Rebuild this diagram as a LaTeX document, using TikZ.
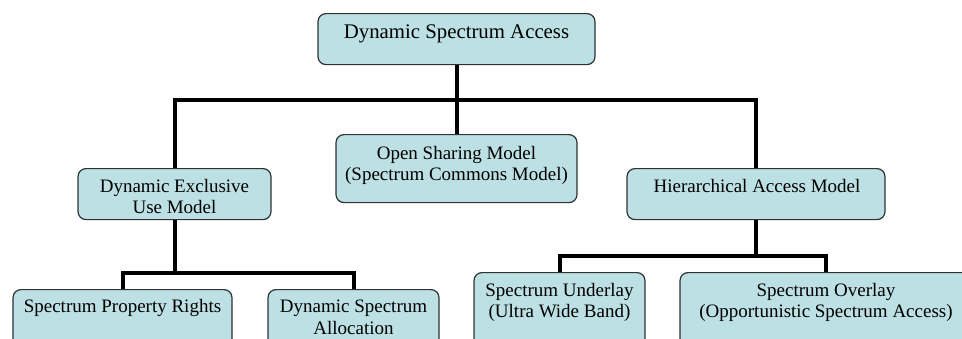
\documentclass[tikz,border=0pt]{standalone}
\usepackage{fontspec}
\setmainfont{Liberation Serif}
\usetikzlibrary{calc}
\definecolor{boxfill}{RGB}{188,224,227}
\definecolor{boxline}{RGB}{45,50,52}
\tikzset{
  box/.style={draw=boxline, fill=boxfill, line width=1.2pt, rounded corners=8pt,
              inner sep=0pt, anchor=north},
  lbl/.style={inner sep=0pt, anchor=north, align=center, text=black,
              font=\fontsize{19}{21.5}\selectfont},
  conn/.style={line width=4pt, draw=black}
}
\begin{document}
\begin{tikzpicture}[x=1pt, y=-1pt]
  \useasboundingbox (0,0) rectangle (962,338);
  \clip (0,0) rectangle (962,338);

  % boxes
  \node[box, minimum width=277pt, minimum height=51pt] (dsa)  at (456.5,13)  {};
  \node[box, minimum width=241pt, minimum height=68pt] (open) at (456.5,134) {};
  \node[box, minimum width=193pt, minimum height=51pt] (deu)  at (174.5,168) {};
  \node[box, minimum width=258pt, minimum height=51pt] (ham)  at (756,168)   {};
  \node[box, minimum width=219pt, minimum height=70pt] (spr)  at (122.5,289) {};
  \node[box, minimum width=171pt, minimum height=70pt] (dspa) at (353.5,289) {};
  \node[box, minimum width=171pt, minimum height=80pt] (und)  at (559.5,272) {};
  \node[box, minimum width=292pt, minimum height=80pt] (ovl)  at (826,272)   {};

  % labels
  \node[lbl, font=\fontsize{20.8}{23}\selectfont] (dsaT) at (456.5,25) {Dynamic Spectrum Access};
  \node[lbl] (openT) at (456.5,146) {Open Sharing Model\\(Spectrum Commons Model)};
  \node[lbl] (deuT)  at (174.5,179) {Dynamic Exclusive\\Use Model};
  \node[lbl] (hamT)  at (757,179)   {Hierarchical Access Model};
  \node[lbl] (sprT)  at (122.5,299) {Spectrum Property Rights};
  \node[lbl] (dspaT) at (353.5,300) {Dynamic Spectrum\\Allocation};
  \node[lbl] (undT)  at (559.5,283) {Spectrum Underlay\\(Ultra Wide Band)};
  \node[lbl] (ovlT)  at (826,283)   {Spectrum Overlay\\(Opportunistic Spectrum Access)};

  % bus bars of the tree, straight below each parent
  \path (dsa.south) ++(0,35) coordinate (bar1);
  \path (deu.south) ++(0,53) coordinate (bar2);
  \path (ham.south) ++(0,36) coordinate (bar3);

  % connectors
  \draw[conn] (dsa.south) -- (open.north);
  \draw[conn] (deu.north) |- (bar1) -| (ham.north);
  \draw[conn] (deu.south) -- (bar2);
  \draw[conn] (spr.north) |- (bar2) -| (dspa.north);
  \draw[conn] (ham.south) -- (bar3);
  \draw[conn] (und.north) |- (bar3) -| (ovl.north);
\end{tikzpicture}
\end{document}
